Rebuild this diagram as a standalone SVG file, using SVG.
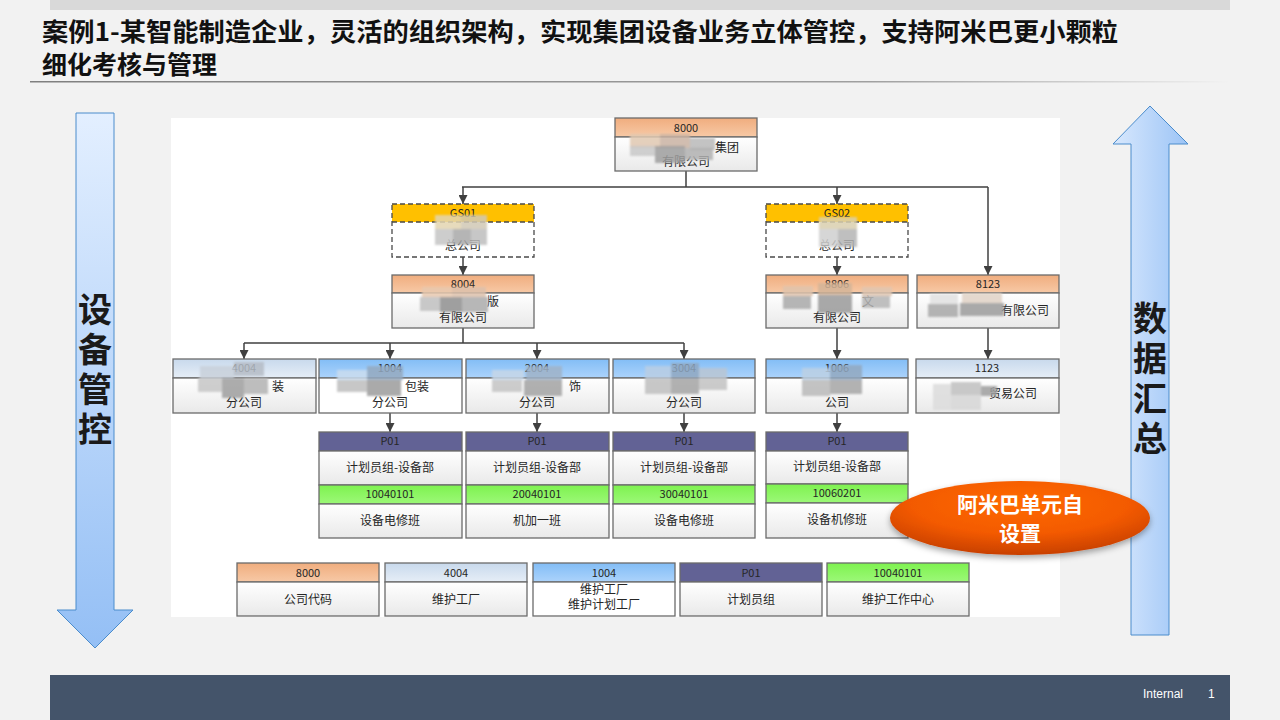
<svg xmlns="http://www.w3.org/2000/svg" width="1280" height="720" viewBox="0 0 1280 720">
<defs>
<style>
.title{font-family:"Noto Sans CJK SC","Noto Sans",sans-serif;font-weight:700;font-size:25px;fill:#111}
.t{font-family:"Noto Sans CJK SC","Noto Sans",sans-serif;font-size:12px;fill:#262626;text-anchor:middle}
.h{font-family:"Noto Sans CJK SC","Noto Sans",sans-serif;font-size:11px;fill:#262626;text-anchor:middle}
.box{stroke:#6b6b6b;stroke-width:1.3}
.dash{fill:none;stroke:#4a4a4a;stroke-width:1.3;stroke-dasharray:5 3}
.body{fill:url(#gBody)}
.org{fill:url(#gOrange)}
.blu{fill:url(#gBlue)}
.lbl{fill:url(#gLight)}
.yel{fill:#ffc000}
.pur{fill:#626295}
.grn{fill:url(#gGreen)}
.conn{fill:none;stroke:#404040;stroke-width:1.5}
.big{font-family:"Noto Sans CJK SC","Noto Sans",sans-serif;font-weight:700;font-size:34px;fill:#1a1a1a;text-anchor:middle;writing-mode:tb;letter-spacing:6px}
.mos rect{opacity:0.85}
</style>
<linearGradient id="gBody" x1="0" y1="0" x2="0" y2="1"><stop offset="0" stop-color="#ffffff"/><stop offset="1" stop-color="#e9e9e9"/></linearGradient>
<linearGradient id="gOrange" x1="0" y1="0" x2="0" y2="1"><stop offset="0" stop-color="#f0ad7e"/><stop offset="1" stop-color="#f7c9a6"/></linearGradient>
<linearGradient id="gBlue" x1="0" y1="0" x2="0" y2="1"><stop offset="0" stop-color="#82bdf6"/><stop offset="1" stop-color="#acd3fb"/></linearGradient>
<linearGradient id="gLight" x1="0" y1="0" x2="0" y2="1"><stop offset="0" stop-color="#c8d9ec"/><stop offset="1" stop-color="#e6eef7"/></linearGradient>
<linearGradient id="gGreen" x1="0" y1="0" x2="0" y2="1"><stop offset="0" stop-color="#7ef24f"/><stop offset="1" stop-color="#9cf878"/></linearGradient>
<linearGradient id="gLeft" x1="0" y1="0" x2="0" y2="1"><stop offset="0" stop-color="#e3efff"/><stop offset="1" stop-color="#94bff5"/></linearGradient>
<linearGradient id="gRight" x1="0" y1="0" x2="1" y2="0"><stop offset="0" stop-color="#d8e8fd"/><stop offset="1" stop-color="#9cc4f6"/></linearGradient>
<linearGradient id="gLine" x1="0" y1="0" x2="1" y2="0"><stop offset="0" stop-color="#808080"/><stop offset="0.7" stop-color="#a0a0a0"/><stop offset="1" stop-color="#f2f2f2"/></linearGradient>
<radialGradient id="gEll" cx="0.5" cy="0.3" r="0.7"><stop offset="0" stop-color="#ff6a00"/><stop offset="0.6" stop-color="#f35a00"/><stop offset="1" stop-color="#c84000"/></radialGradient>
<filter id="blur" x="-20%" y="-20%" width="140%" height="140%"><feGaussianBlur stdDeviation="1.2"/></filter>
<filter id="shadow" x="-20%" y="-30%" width="140%" height="170%"><feDropShadow dx="0" dy="3" stdDeviation="3" flood-color="#000" flood-opacity="0.35"/></filter>
<marker id="arr" viewBox="0 0 10 10" refX="10" refY="5" markerWidth="10" markerHeight="9" markerUnits="userSpaceOnUse" orient="auto"><path d="M0,0 L10,5 L0,10 z" fill="#404040"/></marker>
</defs>

<rect x="0" y="0" width="1280" height="720" fill="#f2f2f2"/>
<rect x="50" y="0" width="1180" height="10" fill="#d9d9d9"/>

<g id="title">
<text class="title" x="42" y="41" textLength="1076" lengthAdjust="spacingAndGlyphs">案例1-某智能制造企业，灵活的组织架构，实现集团设备业务立体管控，支持阿米巴更小颗粒</text>
<text class="title" x="42" y="74">细化考核与管理</text>
<rect x="30" y="81" width="1200" height="1.5" fill="url(#gLine)"/>
</g>

<rect id="chart-bg" x="171" y="118" width="889" height="499" fill="#ffffff"/>

<g id="left-arrow">
<path d="M76,113 H114 V610 H133 L95,648 L57,610 H76 Z" fill="url(#gLeft)" stroke="#4a8ccc" stroke-width="1"/>
<text class="big" x="95" y="372">设备管控</text>
</g>

<g id="right-arrow">
<path d="M1131,635 V144 H1113 L1150,106 L1188,144 H1169 V635 Z" fill="url(#gRight)" stroke="#4a8ccc" stroke-width="1"/>
<text class="big" x="1150" y="381">数据汇总</text>
</g>

<g id="connectors">
<path class="conn" d="M686,171 V187 M462,187 H988"/>
<path class="conn" d="M463,187 V204" marker-end="url(#arr)"/>
<path class="conn" d="M837,187 V204" marker-end="url(#arr)"/>
<path class="conn" d="M988,187 V275" marker-end="url(#arr)"/>
<path class="conn" d="M463,257 V275" marker-end="url(#arr)"/>
<path class="conn" d="M837,257 V275" marker-end="url(#arr)"/>
<path class="conn" d="M463,328 V343 M244,343 H684"/>
<path class="conn" d="M244,343 V359" marker-end="url(#arr)"/>
<path class="conn" d="M390,343 V359" marker-end="url(#arr)"/>
<path class="conn" d="M537,343 V359" marker-end="url(#arr)"/>
<path class="conn" d="M684,343 V359" marker-end="url(#arr)"/>
<path class="conn" d="M837,328 V359" marker-end="url(#arr)"/>
<path class="conn" d="M988,328 V359" marker-end="url(#arr)"/>
<path class="conn" d="M390,413 V432" marker-end="url(#arr)"/>
<path class="conn" d="M537,413 V432" marker-end="url(#arr)"/>
<path class="conn" d="M684,413 V432" marker-end="url(#arr)"/>
<path class="conn" d="M837,413 V432" marker-end="url(#arr)"/>
</g>

<g id="n8000">
<rect class="box org" x="615" y="118" width="142" height="19"/>
<rect class="box body" x="615" y="137" width="142" height="34"/>
<text class="h" x="686" y="132">8000</text>
<text class="t" x="727" y="152">集团</text>
<text class="t" x="686" y="166">有限公司</text>
<g class="mos" filter="url(#blur)"><rect x="630" y="134" width="30" height="14" fill="#e0c8b0"/><rect x="660" y="134" width="30" height="14" fill="#c9b3a2"/><rect x="690" y="138" width="25" height="12" fill="#b8b8b8"/><rect x="630" y="146" width="25" height="10" fill="#c8c8c8"/><rect x="655" y="146" width="30" height="17" fill="#9e9e9e"/><rect x="685" y="148" width="28" height="12" fill="#b0b0b0"/></g>
</g>

<g id="nGS01">
<rect class="yel" x="392" y="204" width="142" height="18"/>
<rect x="392" y="222" width="142" height="35" fill="#ffffff"/>
<rect class="dash" x="392" y="204" width="142" height="53"/>
<line x1="392" y1="222" x2="534" y2="222" stroke="#4a4a4a" stroke-width="1.3" stroke-dasharray="5 3"/>
<text class="h" x="463" y="217">GS01</text>
<text class="t" x="463" y="250">总公司</text>
<g class="mos" filter="url(#blur)"><rect x="435" y="215" width="26" height="14" fill="#e3d5b0"/><rect x="461" y="215" width="26" height="14" fill="#d0c8b4"/><rect x="435" y="229" width="18" height="16" fill="#c4c4c4"/><rect x="453" y="229" width="18" height="16" fill="#a8a8a8"/><rect x="471" y="229" width="16" height="16" fill="#bdbdbd"/></g>
</g>

<g id="n8004">
<rect class="box org" x="392" y="275" width="142" height="18"/>
<rect class="box body" x="392" y="293" width="142" height="35"/>
<text class="h" x="463" y="288">8004</text>
<text class="t" x="493" y="306">版</text>
<text class="t" x="463" y="322">有限公司</text>
<g class="mos" filter="url(#blur)"><rect x="422" y="287" width="30" height="10" fill="#e8c8ae"/><rect x="452" y="287" width="34" height="10" fill="#dcc0aa"/><rect x="420" y="297" width="20" height="14" fill="#c0c0c0"/><rect x="440" y="297" width="22" height="15" fill="#8f8f8f"/><rect x="462" y="297" width="26" height="15" fill="#ababab"/></g>
</g>

<g id="nGS02">
<rect class="yel" x="766" y="204" width="142" height="18"/>
<rect x="766" y="222" width="142" height="35" fill="#ffffff"/>
<rect class="dash" x="766" y="204" width="142" height="53"/>
<line x1="766" y1="222" x2="908" y2="222" stroke="#4a4a4a" stroke-width="1.3" stroke-dasharray="5 3"/>
<text class="h" x="837" y="217">GS02</text>
<text class="t" x="837" y="250">总公司</text>
<g class="mos" filter="url(#blur)"><rect x="819" y="217" width="38" height="12" fill="#d9cfae"/><rect x="819" y="229" width="19" height="18" fill="#cfcfcf"/><rect x="838" y="229" width="19" height="18" fill="#b4b4b4"/></g>
</g>

<g id="n8806">
<rect class="box org" x="766" y="275" width="142" height="18"/>
<rect class="box body" x="766" y="293" width="142" height="35"/>
<text class="h" x="837" y="288">8806</text>
<text class="t" x="868" y="306">文</text>
<text class="t" x="837" y="322">有限公司</text>
<g class="mos" filter="url(#blur)"><rect x="783" y="286" width="30" height="10" fill="#e1c3ac"/><rect x="818" y="283" width="34" height="12" fill="#d3b498"/><rect x="862" y="287" width="30" height="9" fill="#e0c6b0"/><rect x="783" y="296" width="28" height="13" fill="#a9a9a9"/><rect x="818" y="295" width="34" height="18" fill="#9a9a9a"/><rect x="862" y="296" width="28" height="12" fill="#b5b5b5"/></g>
</g>

<g id="n8123">
<rect class="box org" x="917" y="275" width="142" height="18"/>
<rect class="box body" x="917" y="293" width="142" height="35"/>
<text class="h" x="988" y="288">8123</text>
<text class="t" x="1049" y="315" style="text-anchor:end">有限公司</text>
<g class="mos" filter="url(#blur)"><rect x="930" y="294" width="28" height="10" fill="#e2e2e2"/><rect x="962" y="293" width="40" height="10" fill="#e0d2c6"/><rect x="928" y="304" width="30" height="13" fill="#a8a8a8"/><rect x="960" y="303" width="44" height="13" fill="#9c9c9c"/></g>
</g>

<g id="n4004">
<rect class="box lbl" x="173" y="359" width="143" height="19"/>
<rect class="box body" x="173" y="378" width="143" height="35"/>
<text class="h" x="244" y="372">4004</text>
<text class="t" x="278" y="391">装</text>
<text class="t" x="244" y="407">分公司</text>
<g class="mos" filter="url(#blur)"><rect x="200" y="366" width="34" height="12" fill="#c8d0da"/><rect x="234" y="362" width="30" height="14" fill="#b5bcc5"/><rect x="198" y="378" width="24" height="14" fill="#c6c6c6"/><rect x="222" y="378" width="22" height="20" fill="#9e9e9e"/><rect x="244" y="378" width="24" height="16" fill="#b3b3b3"/></g>
</g>

<g id="n1004">
<rect class="box blu" x="319" y="359" width="143" height="19"/>
<rect class="box" x="319" y="378" width="143" height="35" fill="#ffffff"/>
<text class="h" x="390" y="372">1004</text>
<text class="t" x="417" y="391">包装</text>
<text class="t" x="390" y="407">分公司</text>
<g class="mos" filter="url(#blur)"><rect x="337" y="370" width="30" height="10" fill="#c9dcef"/><rect x="367" y="366" width="36" height="14" fill="#94a9c0"/><rect x="337" y="380" width="30" height="12" fill="#bdbdbd"/><rect x="367" y="380" width="34" height="16" fill="#9b9b9b"/></g>
</g>

<g id="n2004">
<rect class="box blu" x="466" y="359" width="143" height="19"/>
<rect class="box body" x="466" y="378" width="143" height="35"/>
<text class="h" x="537" y="372">2004</text>
<text class="t" x="575" y="391">饰</text>
<text class="t" x="537" y="407">分公司</text>
<g class="mos" filter="url(#blur)"><rect x="492" y="370" width="32" height="10" fill="#c6d6e8"/><rect x="526" y="366" width="36" height="14" fill="#9fb3c8"/><rect x="492" y="380" width="30" height="12" fill="#c3c3c3"/><rect x="524" y="380" width="38" height="16" fill="#a2a2a2"/></g>
</g>

<g id="n3004">
<rect class="box blu" x="613" y="359" width="142" height="19"/>
<rect class="box body" x="613" y="378" width="142" height="35"/>
<text class="h" x="684" y="372">3004</text>
<text class="t" x="684" y="407">分公司</text>
<g class="mos" filter="url(#blur)"><rect x="645" y="366" width="26" height="12" fill="#b8cee4"/><rect x="671" y="363" width="28" height="15" fill="#8fa7c1"/><rect x="699" y="368" width="28" height="10" fill="#b9c6d4"/><rect x="645" y="378" width="26" height="16" fill="#bebebe"/><rect x="671" y="378" width="28" height="16" fill="#a3a3a3"/><rect x="699" y="378" width="28" height="12" fill="#c2c2c2"/></g>
</g>

<g id="n1006">
<rect class="box blu" x="766" y="359" width="142" height="19"/>
<rect class="box body" x="766" y="378" width="142" height="35"/>
<text class="h" x="837" y="372">1006</text>
<text class="t" x="837" y="407">公司</text>
<g class="mos" filter="url(#blur)"><rect x="802" y="368" width="28" height="12" fill="#bcd0e4"/><rect x="830" y="365" width="32" height="15" fill="#92a8bf"/><rect x="802" y="380" width="28" height="16" fill="#b9b9b9"/><rect x="830" y="380" width="32" height="14" fill="#a6a6a6"/></g>
</g>

<g id="n1123">
<rect class="box lbl" x="916" y="359" width="143" height="19"/>
<rect class="box body" x="916" y="378" width="143" height="35"/>
<text class="h" x="987" y="372">1123</text>
<text class="t" x="1037" y="398" style="text-anchor:end">贸易公司</text>
<g class="mos" filter="url(#blur)"><rect x="933" y="384" width="18" height="26" fill="#dcdcdc"/><rect x="951" y="382" width="30" height="13" fill="#c0c0c0"/><rect x="951" y="395" width="30" height="15" fill="#d6d6d6"/><rect x="981" y="386" width="16" height="10" fill="#9d9d9d"/></g>
</g>

<g id="p01-1004">
<rect class="box pur" x="319" y="432" width="143" height="19" stroke="#d84ee6"/>
<rect class="box body" x="319" y="451" width="143" height="34"/>
<rect class="box grn" x="319" y="485" width="143" height="19"/>
<rect class="box body" x="319" y="504" width="143" height="34"/>
<text class="h" x="390" y="445">P01</text>
<text class="t" x="390" y="472">计划员组-设备部</text>
<text class="h" x="390" y="498">10040101</text>
<text class="t" x="390" y="525">设备电修班</text>
</g>

<g id="p01-2004">
<rect class="box pur" x="466" y="432" width="143" height="19" stroke="#d84ee6"/>
<rect class="box body" x="466" y="451" width="143" height="34"/>
<rect class="box grn" x="466" y="485" width="143" height="19"/>
<rect class="box body" x="466" y="504" width="143" height="34"/>
<text class="h" x="537" y="445">P01</text>
<text class="t" x="537" y="472">计划员组-设备部</text>
<text class="h" x="537" y="498">20040101</text>
<text class="t" x="537" y="525">机加一班</text>
</g>

<g id="p01-3004">
<rect class="box pur" x="613" y="432" width="142" height="19" stroke="#d84ee6"/>
<rect class="box body" x="613" y="451" width="142" height="34"/>
<rect class="box grn" x="613" y="485" width="142" height="19"/>
<rect class="box body" x="613" y="504" width="142" height="34"/>
<text class="h" x="684" y="445">P01</text>
<text class="t" x="684" y="472">计划员组-设备部</text>
<text class="h" x="684" y="498">30040101</text>
<text class="t" x="684" y="525">设备电修班</text>
</g>

<g id="p01-1006">
<rect class="box pur" x="766" y="432" width="142" height="19" stroke="#d84ee6"/>
<rect class="box body" x="766" y="451" width="142" height="33"/>
<rect class="box grn" x="766" y="484" width="142" height="19"/>
<rect class="box body" x="766" y="503" width="142" height="35"/>
<text class="h" x="837" y="445">P01</text>
<text class="t" x="837" y="471">计划员组-设备部</text>
<text class="h" x="837" y="497">10060201</text>
<text class="t" x="837" y="524">设备机修班</text>
</g>

<g id="legend-8000">
<rect class="box org" x="237" y="563" width="142" height="19"/>
<rect class="box body" x="237" y="582" width="142" height="34"/>
<text class="h" x="308" y="577">8000</text>
<text class="t" x="308" y="604">公司代码</text>
</g>
<g id="legend-4004">
<rect class="box lbl" x="385" y="563" width="142" height="19"/>
<rect class="box body" x="385" y="582" width="142" height="34"/>
<text class="h" x="456" y="577">4004</text>
<text class="t" x="456" y="604">维护工厂</text>
</g>
<g id="legend-1004">
<rect class="box blu" x="533" y="563" width="142" height="19"/>
<rect class="box" x="533" y="582" width="142" height="34" fill="#ffffff"/>
<text class="h" x="604" y="577">1004</text>
<text class="t" x="604" y="594">维护工厂</text>
<text class="t" x="604" y="609">维护计划工厂</text>
</g>
<g id="legend-p01">
<rect class="box pur" x="680" y="563" width="142" height="19" stroke="#d84ee6"/>
<rect class="box body" x="680" y="582" width="142" height="34"/>
<text class="h" x="751" y="577">P01</text>
<text class="t" x="751" y="604">计划员组</text>
</g>
<g id="legend-wc">
<rect class="box grn" x="827" y="563" width="142" height="19"/>
<rect class="box body" x="827" y="582" width="142" height="34"/>
<text class="h" x="898" y="577">10040101</text>
<text class="t" x="898" y="604">维护工作中心</text>
</g>

<g id="amoeba">
<ellipse cx="1020" cy="518" rx="130" ry="37" fill="url(#gEll)" filter="url(#shadow)"/>
<text x="1020" y="512" text-anchor="middle" font-family="Noto Sans CJK SC, sans-serif" font-weight="700" font-size="21" fill="#ffffff">阿米巴单元自</text>
<text x="1020" y="541" text-anchor="middle" font-family="Noto Sans CJK SC, sans-serif" font-weight="700" font-size="21" fill="#ffffff">设置</text>
</g>

<g id="footer">
<rect x="50" y="675" width="1180" height="45" fill="#44546a"/>
<text x="1143" y="698" font-family="Liberation Sans Narrow, Liberation Sans, sans-serif" font-size="12" fill="#ffffff">Internal</text>
<text x="1208" y="698" font-family="Liberation Sans, sans-serif" font-size="12" fill="#ffffff">1</text>
</g>
</svg>
